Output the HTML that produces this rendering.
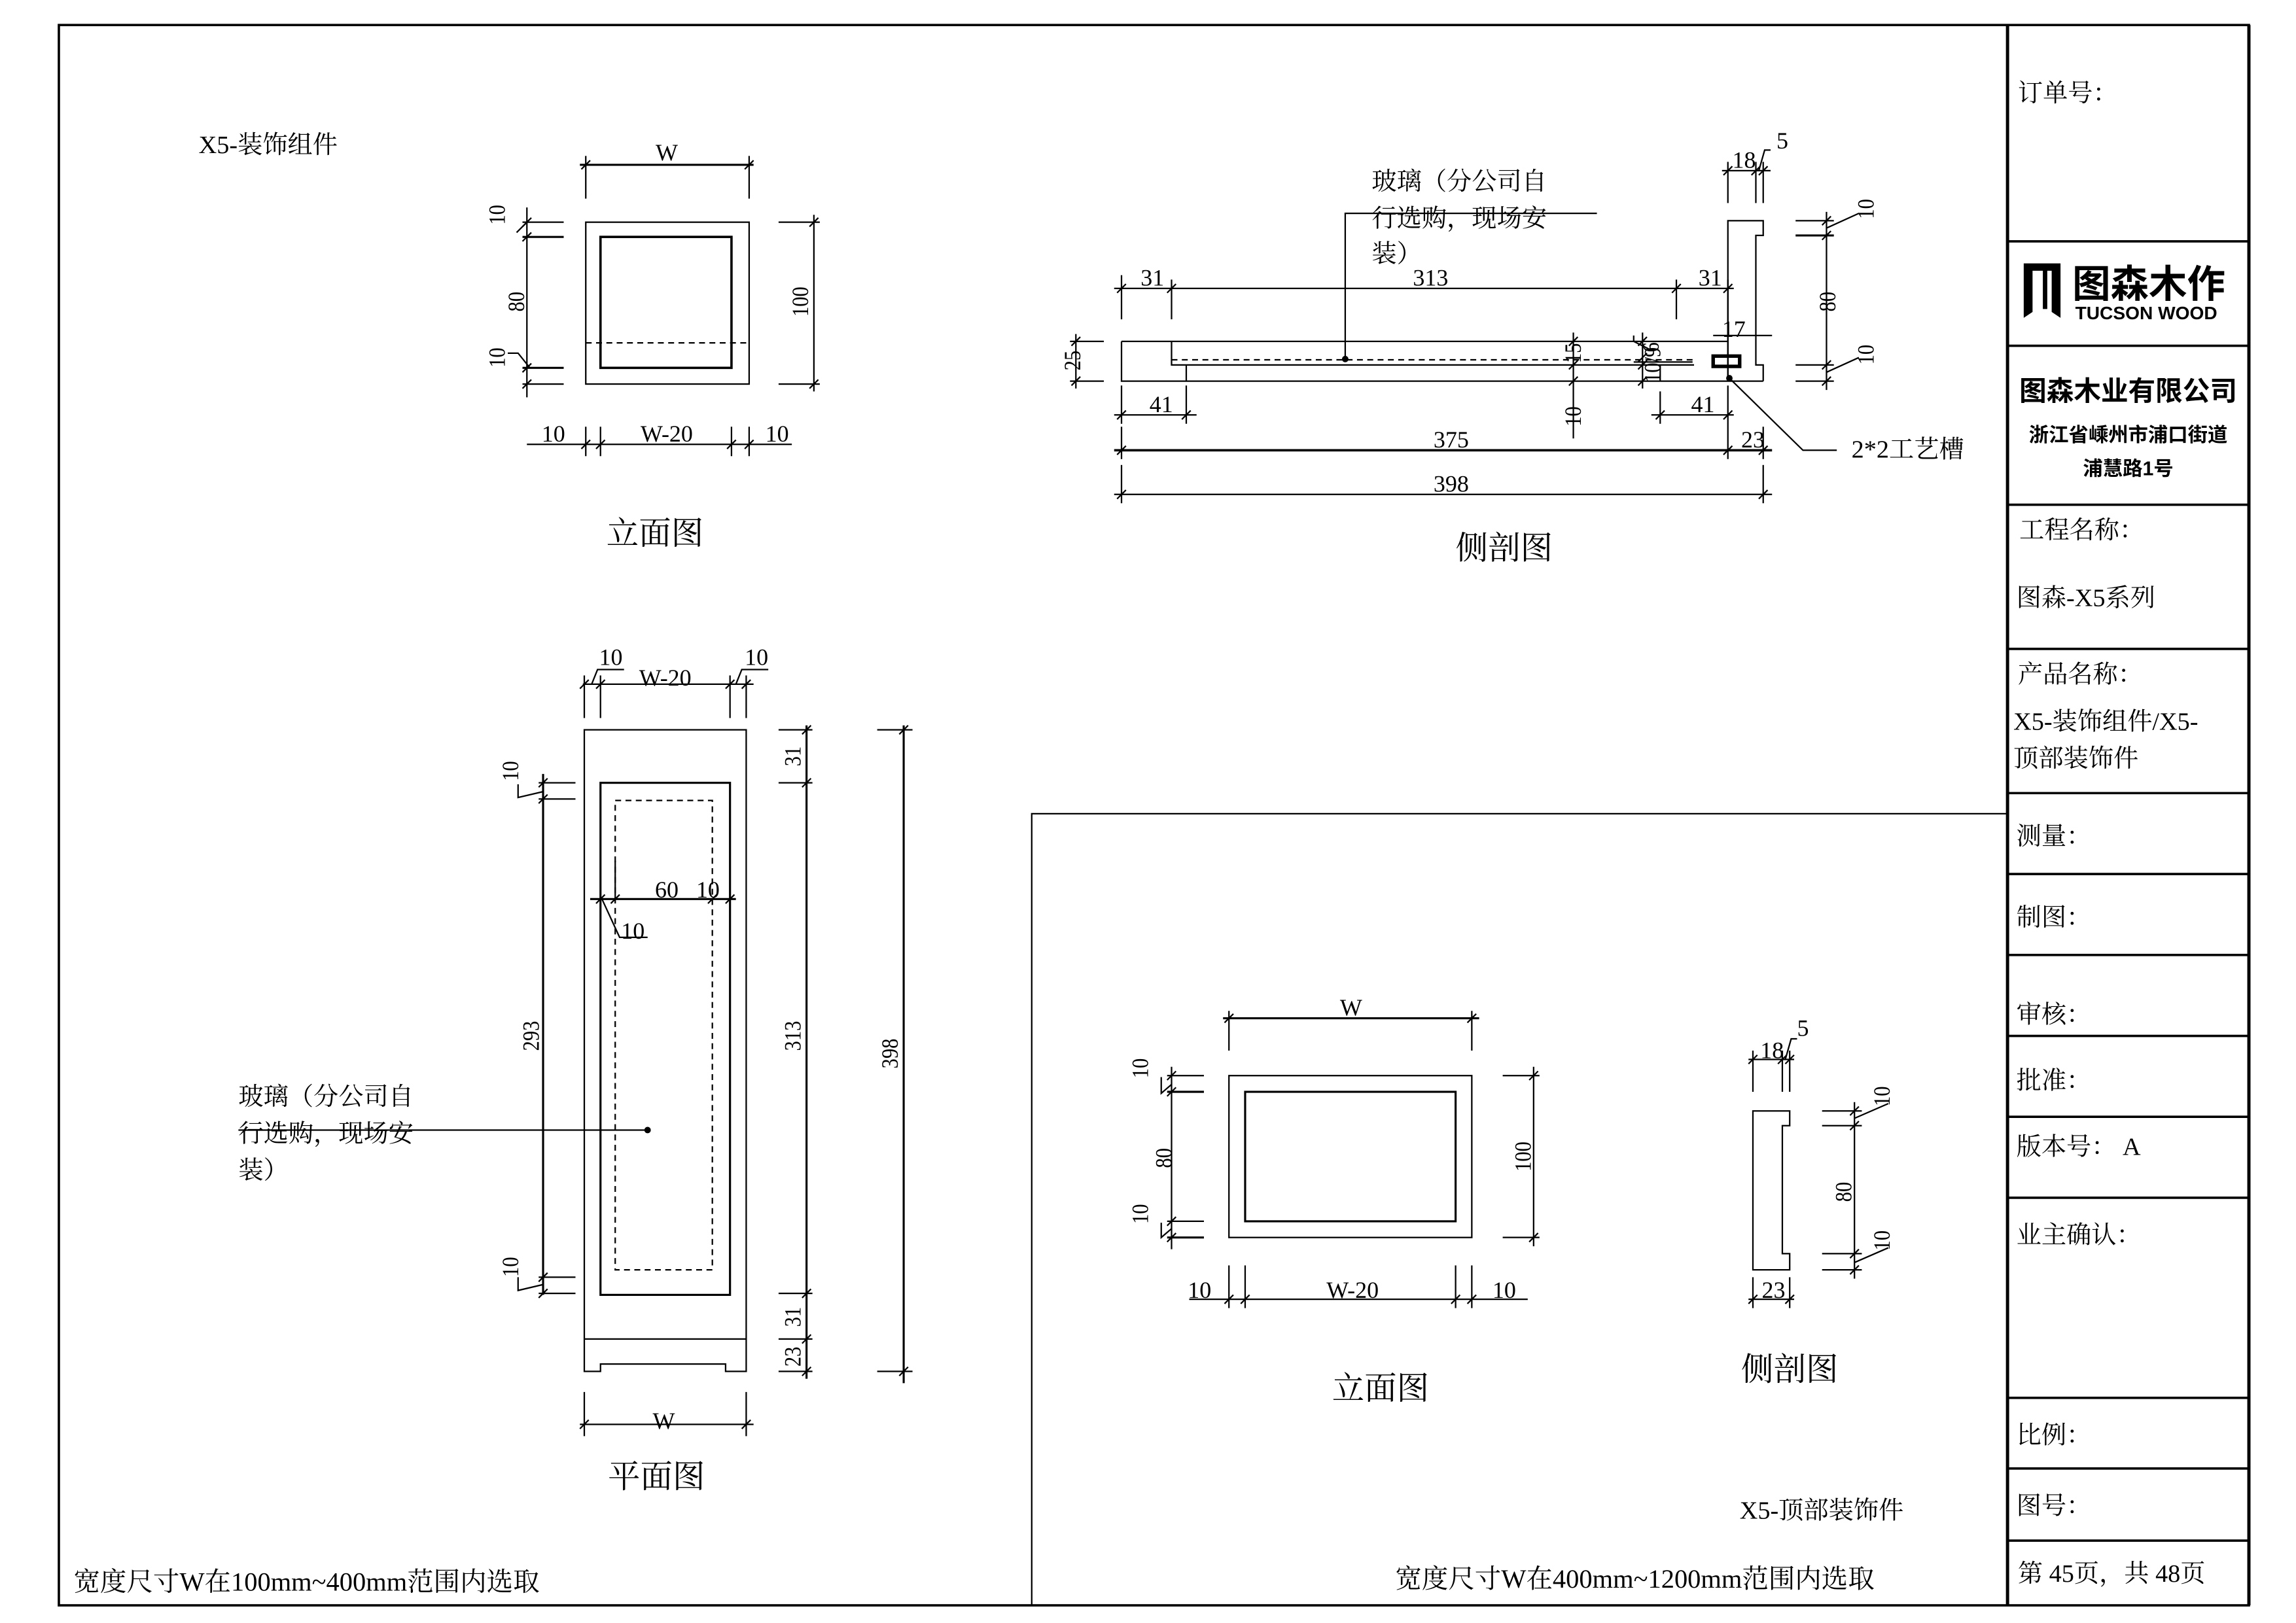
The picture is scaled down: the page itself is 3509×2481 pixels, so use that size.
<!DOCTYPE html>
<html><head><meta charset="utf-8"><style>
html,body{margin:0;padding:0;background:#fff}
svg{display:block}
.l{stroke:#000;stroke-width:1;fill:none}
.t{stroke:#000;stroke-width:1.6;fill:none}
.k{stroke:#000;stroke-width:2.2;fill:none}
.ds{stroke:#000;stroke-width:1;fill:none;stroke-dasharray:4 3}
.d{font-family:"Liberation Serif","Noto Serif CJK SC",serif;font-size:16px;fill:#000}
.c{font-family:"Liberation Serif","Noto Serif CJK SC",serif;fill:#000}
.b{font-family:"Liberation Sans","Noto Sans CJK SC",sans-serif;font-weight:bold;fill:#000}
</style></head><body>
<svg width="3509" height="2481" viewBox="0 0 1560 1103" preserveAspectRatio="none" xmlns="http://www.w3.org/2000/svg">
<rect x="0" y="0" width="1560" height="1103" fill="#fff"/>
<rect x="40" y="17" width="1488" height="1074" class="t"/>
<line x1="1364" y1="17" x2="1364" y2="1091" class="k"/>
<line x1="1528" y1="17" x2="1528" y2="1091" class="k"/>
<path class="l" d="M701 1091 V553 H1364"/>
<g class="t">
<line x1="1364" y1="164" x2="1528" y2="164"/>
<line x1="1364" y1="235" x2="1528" y2="235"/>
<line x1="1364" y1="343" x2="1528" y2="343"/>
<line x1="1364" y1="441" x2="1528" y2="441"/>
<line x1="1364" y1="539" x2="1528" y2="539"/>
<line x1="1364" y1="594" x2="1528" y2="594"/>
<line x1="1364" y1="649" x2="1528" y2="649"/>
<line x1="1364" y1="704" x2="1528" y2="704"/>
<line x1="1364" y1="759" x2="1528" y2="759"/>
<line x1="1364" y1="814" x2="1528" y2="814"/>
<line x1="1364" y1="950" x2="1528" y2="950"/>
<line x1="1364" y1="998" x2="1528" y2="998"/>
<line x1="1364" y1="1047" x2="1528" y2="1047"/>
</g>
<g class="c" font-size="17">
<text x="1371" y="69">订单号：</text>
<text x="1372" y="366">工程名称：</text>
<text x="1370" y="412">图森-X5系列</text>
<text x="1371" y="464">产品名称：</text>
<text x="1368" y="496">X5-装饰组件/X5-</text>
<text x="1368" y="521">顶部装饰件</text>
<text x="1370" y="574">测量：</text>
<text x="1370" y="629">制图：</text>
<text x="1370" y="695">审核：</text>
<text x="1370" y="740">批准：</text>
<text x="1370" y="785">版本号：   A</text>
<text x="1370" y="845">业主确认：</text>
<text x="1370" y="981">比例：</text>
<text x="1370" y="1029">图号：</text>
<text x="1371" y="1075">第 45页，共 48页</text>
</g>
<path d="M1375 179 H1400 V216 L1394 212 V184 H1391 V210 L1388 210 V184 H1381 V212 L1375 216 Z" fill="#000"/>
<text x="1408" y="202" class="b" font-size="26">图森木作</text>
<text x="1410" y="217" class="b" font-size="12.5" font-weight="normal">TUCSON WOOD</text>
<text x="1446" y="272" class="b" font-size="18.5" text-anchor="middle">图森木业有限公司</text>
<text x="1446" y="300" class="b" font-size="13.5" text-anchor="middle">浙江省嵊州市浦口街道</text>
<text x="1446" y="323" class="b" font-size="13.5" text-anchor="middle">浦慧路1号</text>

<text x="135" y="104" class="c" font-size="17">X5-装饰组件</text>
<rect x="398" y="151" width="111" height="110" class="l"/>
<rect x="408" y="161" width="89" height="89" class="t"/>
<line x1="398" y1="233" x2="509" y2="233" class="ds"/>
<g class="l">
<line x1="394" y1="112" x2="512" y2="112" stroke-width="1.4"/>
<line x1="398" y1="106" x2="398" y2="135"/><line x1="509" y1="106" x2="509" y2="135"/>
<path d="M395 115 L401 109 M506 115 L512 109"/>
<line x1="358" y1="141" x2="358" y2="270"/>
<line x1="355" y1="151" x2="383" y2="151"/><line x1="355" y1="161" x2="383" y2="161" stroke-width="1.4"/>
<line x1="355" y1="250" x2="383" y2="250" stroke-width="1.4"/><line x1="355" y1="261" x2="383" y2="261"/>
<path d="M355 154 L361 148 M355 164 L361 158 M355 253 L361 247 M355 264 L361 258"/>
<path d="M358 151 L351 158 M360 250 L352 240 H345"/>
<line x1="553" y1="146" x2="553" y2="266"/>
<line x1="529" y1="151" x2="557" y2="151"/><line x1="529" y1="261" x2="557" y2="261"/>
<path d="M550 154 L556 148 M550 264 L556 258"/>
<line x1="358" y1="302" x2="538" y2="302"/>
<line x1="398" y1="290" x2="398" y2="310"/><line x1="408" y1="290" x2="408" y2="310"/>
<line x1="497" y1="290" x2="497" y2="310"/><line x1="509" y1="290" x2="509" y2="310"/>
<path d="M395 305 L401 299 M405 305 L411 299 M494 305 L500 299 M506 305 L512 299"/>
</g>
<text class="d" transform="translate(343,146) rotate(-90) scale(0.85,1)" text-anchor="middle">10</text>
<text class="d" transform="translate(356,205) rotate(-90) scale(0.85,1)" text-anchor="middle">80</text>
<text class="d" transform="translate(343,243) rotate(-90) scale(0.85,1)" text-anchor="middle">10</text>
<text class="d" transform="translate(549,205) rotate(-90) scale(0.85,1)" text-anchor="middle">100</text>
<text class="d" x="453" y="109" text-anchor="middle" font-size="13">W</text>
<text class="d" x="376" y="300" text-anchor="middle">10</text>
<text class="d" x="453" y="300" text-anchor="middle">W-20</text>
<text class="d" x="528" y="300" text-anchor="middle">10</text>
<text class="c" x="445" y="370" font-size="22" text-anchor="middle">立面图</text>

<g class="l">
<path d="M762 232 H1174 M762 232 V259 H1198"/>
<path d="M796 232 V248 H1151"/>
<line x1="806" y1="248" x2="806" y2="259"/>
<line x1="1128" y1="248" x2="1128" y2="259"/>
<path d="M1174 259 V150 H1198 V160 H1193 V248 H1198 V259"/>
<line x1="1164" y1="228" x2="1204" y2="228"/>
<line x1="1174" y1="220" x2="1174" y2="259"/>
<line x1="757" y1="196" x2="1178" y2="196"/>
<line x1="762" y1="187" x2="762" y2="217"/><line x1="796" y1="190" x2="796" y2="217"/>
<line x1="1139" y1="190" x2="1139" y2="217"/><line x1="1174" y1="190" x2="1174" y2="228"/>
<path d="M759 199 L765 193 M793 199 L799 193 M1136 199 L1142 193 M1171 199 L1177 193"/>
<line x1="731" y1="227" x2="731" y2="264"/>
<line x1="727" y1="232" x2="750" y2="232"/><line x1="727" y1="259" x2="750" y2="259"/>
<path d="M728 235 L734 229 M728 262 L734 256"/>
<line x1="757" y1="282" x2="813" y2="282"/>
<line x1="762" y1="262" x2="762" y2="288"/><line x1="806" y1="262" x2="806" y2="288"/>
<path d="M759 285 L765 279 M803 285 L809 279"/>
<line x1="1122" y1="282" x2="1178" y2="282"/>
<line x1="1128" y1="266" x2="1128" y2="288"/><line x1="1174" y1="262" x2="1174" y2="312"/>
<path d="M1125 285 L1131 279 M1171 285 L1177 279"/>
<line x1="757" y1="306" x2="1204" y2="306" stroke-width="1.6"/>
<line x1="762" y1="290" x2="762" y2="312"/><line x1="1198" y1="290" x2="1198" y2="312"/>
<path d="M759 309 L765 303 M1171 309 L1177 303 M1195 309 L1201 303"/>
<line x1="757" y1="336" x2="1204" y2="336"/>
<line x1="762" y1="316" x2="762" y2="342"/><line x1="1198" y1="316" x2="1198" y2="342"/>
<path d="M759 339 L765 333 M1195 339 L1201 333"/>
<line x1="1069" y1="226" x2="1069" y2="298"/>
<path d="M1066 235 L1072 229 M1066 251 L1072 245 M1066 262 L1072 256"/>
<line x1="1116" y1="226" x2="1116" y2="264"/>
<path d="M1113 235 L1119 229 M1113 246 L1119 240 M1113 251 L1119 245 M1113 262 L1119 256"/>
<path d="M1110 228 V232 L1120 237 M1110 246 H1150"/>
<line x1="1241" y1="144" x2="1241" y2="265"/>
<line x1="1220" y1="150" x2="1246" y2="150"/><line x1="1220" y1="160" x2="1246" y2="160" stroke-width="1.4"/>
<line x1="1220" y1="248" x2="1246" y2="248"/><line x1="1220" y1="259" x2="1246" y2="259"/>
<path d="M1238 153 L1244 147 M1238 163 L1244 157 M1238 251 L1244 245 M1238 262 L1244 256"/>
<path d="M1241 155 L1263 145 M1241 253 L1263 243"/>
<line x1="1170" y1="116" x2="1203" y2="116"/>
<line x1="1174" y1="110" x2="1174" y2="138"/><line x1="1193" y1="110" x2="1193" y2="138"/><line x1="1198" y1="110" x2="1198" y2="138"/>
<path d="M1171 119 L1177 113 M1190 119 L1196 113 M1195 119 L1201 113 M1195 116 L1199 102 H1203"/>
<path d="M914 244 V145 H1085"/>
<path d="M1175 257 L1225 306 H1248"/>
</g>
<line x1="796" y1="244.5" x2="1150" y2="244.5" class="ds"/>
<rect x="1164" y="242" width="18" height="7" fill="none" stroke="#000" stroke-width="2.4"/>
<circle cx="914" cy="244" r="2.2" fill="#000"/>
<circle cx="1175" cy="257" r="2.2" fill="#000"/>
<g class="c" font-size="17">
<text x="932" y="129">玻璃（分公司自</text>
<text x="932" y="154">行选购，现场安</text>
<text x="932" y="178">装）</text>
<text x="1258" y="311">2*2工艺槽</text>
</g>
<text class="d" x="783" y="194" text-anchor="middle">31</text>
<text class="d" x="972" y="194" text-anchor="middle">313</text>
<text class="d" x="1162" y="194" text-anchor="middle">31</text>
<text class="d" x="789" y="280" text-anchor="middle">41</text>
<text class="d" x="1157" y="280" text-anchor="middle">41</text>
<text class="d" x="986" y="304" text-anchor="middle">375</text>
<text class="d" x="1191" y="304" text-anchor="middle">23</text>
<text class="d" x="986" y="334" text-anchor="middle">398</text>
<text class="d" x="1178" y="229" text-anchor="middle">17</text>
<text class="d" x="1211" y="101" text-anchor="middle" font-size="14">5</text>
<text class="d" x="1185" y="114" text-anchor="middle" font-size="14">18</text>
<text class="d" transform="translate(734,245) rotate(-90) scale(0.85,1)" text-anchor="middle">25</text>
<text class="d" transform="translate(1074,240) rotate(-90) scale(0.85,1)" text-anchor="middle" font-size="14">15</text>
<text class="d" transform="translate(1074,283) rotate(-90) scale(0.85,1)" text-anchor="middle" font-size="14">10</text>
<text class="d" transform="translate(1127,236) rotate(-90) scale(0.85,1)" text-anchor="middle" font-size="14">6</text>
<text class="d" transform="translate(1128,248) rotate(-90) scale(0.85,1)" text-anchor="middle" font-size="14">10/9</text>
<text class="d" transform="translate(1273,142) rotate(-90) scale(0.85,1)" text-anchor="middle">10</text>
<text class="d" transform="translate(1247,205) rotate(-90) scale(0.85,1)" text-anchor="middle">80</text>
<text class="d" transform="translate(1273,241) rotate(-90) scale(0.85,1)" text-anchor="middle">10</text>
<text class="c" x="1022" y="380" font-size="22" text-anchor="middle">侧剖图</text>

<g class="l">
<path d="M397 496 H507 V932 H493 V927 H408 V932 H397 Z"/>
<line x1="397" y1="910" x2="507" y2="910"/>
<rect x="408" y="532" width="88" height="348" stroke-width="1.4"/>
<line x1="396" y1="465" x2="512" y2="465"/>
<line x1="397" y1="459" x2="397" y2="488"/><line x1="408" y1="459" x2="408" y2="488"/>
<line x1="496" y1="459" x2="496" y2="488"/><line x1="507" y1="459" x2="507" y2="488"/>
<path d="M394 468 L400 462 M405 468 L411 462 M493 468 L499 462 M504 468 L510 462"/>
<path d="M402 465 L406 455 H424 M500 465 L504 455 H522"/>
<line x1="369" y1="526" x2="369" y2="880" stroke-width="1.4"/>
<line x1="366" y1="532" x2="391" y2="532"/><line x1="366" y1="543" x2="391" y2="543"/>
<line x1="366" y1="868" x2="391" y2="868"/><line x1="366" y1="879" x2="391" y2="879"/>
<path d="M366 535 L372 529 M366 546 L372 540 M366 871 L372 865 M366 882 L372 876"/>
<path d="M369 538 L352 542 V533 M369 873 L352 877 V868"/>
<line x1="548" y1="493" x2="548" y2="937" stroke-width="1.4"/>
<line x1="529" y1="496" x2="552" y2="496"/><line x1="529" y1="532" x2="552" y2="532"/>
<line x1="529" y1="879" x2="552" y2="879"/><line x1="529" y1="910" x2="552" y2="910"/>
<line x1="529" y1="932" x2="552" y2="932"/>
<path d="M545 499 L551 493 M545 535 L551 529 M545 882 L551 876 M545 913 L551 907 M545 935 L551 929"/>
<line x1="614" y1="493" x2="614" y2="940" stroke-width="1.4"/>
<line x1="596" y1="496" x2="620" y2="496"/><line x1="596" y1="932" x2="620" y2="932"/>
<path d="M611 499 L617 493 M611 935 L617 929"/>
<line x1="401" y1="611" x2="500" y2="611" stroke-width="1.4"/>
<line x1="418" y1="585" x2="418" y2="611"/>
<path d="M405 614 L411 608 M415 614 L421 608 M481 614 L487 608 M493 614 L499 608"/>
<path d="M409 611 L421 637 H440"/>
<line x1="394" y1="968" x2="512" y2="968"/>
<line x1="397" y1="946" x2="397" y2="976"/><line x1="507" y1="946" x2="507" y2="976"/>
<path d="M394 971 L400 965 M504 971 L510 965"/>
<line x1="162" y1="768" x2="440" y2="768"/>
</g>
<rect x="418" y="544" width="66" height="319" class="ds"/>
<circle cx="440" cy="768" r="2.2" fill="#000"/>
<g class="c" font-size="17">
<text x="162" y="751">玻璃（分公司自</text>
<text x="162" y="776">行选购，现场安</text>
<text x="162" y="801">装）</text>
</g>
<text class="d" x="415" y="452" text-anchor="middle">10</text>
<text class="d" x="514" y="452" text-anchor="middle">10</text>
<text class="d" x="452" y="466" text-anchor="middle">W-20</text>
<text class="d" x="453" y="610" text-anchor="middle">60</text>
<text class="d" x="481" y="610" text-anchor="middle">10</text>
<text class="d" x="430" y="638" text-anchor="middle">10</text>
<text class="d" x="451" y="971" text-anchor="middle" font-size="13">W</text>
<text class="d" transform="translate(352,524) rotate(-90) scale(0.85,1)" text-anchor="middle">10</text>
<text class="d" transform="translate(366,704) rotate(-90) scale(0.85,1)" text-anchor="middle">293</text>
<text class="d" transform="translate(352,861) rotate(-90) scale(0.85,1)" text-anchor="middle">10</text>
<text class="d" transform="translate(544,514) rotate(-90) scale(0.85,1)" text-anchor="middle">31</text>
<text class="d" transform="translate(544,704) rotate(-90) scale(0.85,1)" text-anchor="middle">313</text>
<text class="d" transform="translate(544,895) rotate(-90) scale(0.85,1)" text-anchor="middle">31</text>
<text class="d" transform="translate(544,922) rotate(-90) scale(0.85,1)" text-anchor="middle">23</text>
<text class="d" transform="translate(610,716) rotate(-90) scale(0.85,1)" text-anchor="middle">398</text>
<text class="c" x="446" y="1011" font-size="22" text-anchor="middle">平面图</text>
<text class="c" x="50" y="1081" font-size="18">宽度尺寸W在100mm~400mm范围内选取</text>

<g class="l">
<rect x="835" y="731" width="165" height="110"/>
<rect x="846" y="742" width="143" height="88" stroke-width="1.4"/>
<line x1="831" y1="692" x2="1005" y2="692" stroke-width="1.4"/>
<line x1="835" y1="687" x2="835" y2="714"/><line x1="1000" y1="687" x2="1000" y2="714"/>
<path d="M832 695 L838 689 M997 695 L1003 689"/>
<line x1="796" y1="725" x2="796" y2="849"/>
<line x1="793" y1="731" x2="818" y2="731"/><line x1="793" y1="742" x2="818" y2="742" stroke-width="1.4"/>
<line x1="793" y1="830" x2="818" y2="830"/><line x1="793" y1="841" x2="818" y2="841" stroke-width="1.4"/>
<path d="M793 734 L799 728 M793 745 L799 739 M793 833 L799 827 M793 844 L799 838"/>
<path d="M796 737 L789 743 V732 M796 835 L789 841 V831"/>
<line x1="1042" y1="725" x2="1042" y2="847"/>
<line x1="1021" y1="731" x2="1046" y2="731"/><line x1="1021" y1="841" x2="1046" y2="841"/>
<path d="M1039 734 L1045 728 M1039 844 L1045 838"/>
<line x1="808" y1="883" x2="1038" y2="883"/>
<line x1="835" y1="860" x2="835" y2="889"/><line x1="846" y1="860" x2="846" y2="889"/>
<line x1="989" y1="860" x2="989" y2="889"/><line x1="1000" y1="860" x2="1000" y2="889"/>
<path d="M832 886 L838 880 M843 886 L849 880 M986 886 L992 880 M997 886 L1003 880"/>
<path d="M1191 755 H1216 V765 H1211 V852 H1216 V863 H1191 Z"/>
<line x1="1188" y1="720" x2="1219" y2="720"/>
<line x1="1191" y1="714" x2="1191" y2="742"/><line x1="1211" y1="714" x2="1211" y2="742"/><line x1="1216" y1="714" x2="1216" y2="742"/>
<path d="M1188 723 L1194 717 M1208 723 L1214 717 M1213 723 L1219 717 M1213 720 L1217 706 H1221"/>
<line x1="1260" y1="749" x2="1260" y2="869"/>
<line x1="1238" y1="755" x2="1265" y2="755"/><line x1="1238" y1="765" x2="1265" y2="765"/>
<line x1="1238" y1="852" x2="1265" y2="852"/><line x1="1238" y1="863" x2="1265" y2="863"/>
<path d="M1257 758 L1263 752 M1257 768 L1263 762 M1257 855 L1263 849 M1257 866 L1263 860"/>
<path d="M1260 760 L1283 750 M1260 858 L1283 848"/>
<line x1="1188" y1="883" x2="1219" y2="883"/>
<line x1="1191" y1="868" x2="1191" y2="889"/><line x1="1216" y1="868" x2="1216" y2="889"/>
<path d="M1188 886 L1194 880 M1213 886 L1219 880"/>
</g>
<text class="d" x="918" y="690" text-anchor="middle" font-size="13">W</text>
<text class="d" transform="translate(780,726) rotate(-90) scale(0.85,1)" text-anchor="middle">10</text>
<text class="d" transform="translate(796,787) rotate(-90) scale(0.85,1)" text-anchor="middle">80</text>
<text class="d" transform="translate(780,825) rotate(-90) scale(0.85,1)" text-anchor="middle">10</text>
<text class="d" transform="translate(1040,786) rotate(-90) scale(0.85,1)" text-anchor="middle">100</text>
<text class="d" x="815" y="882" text-anchor="middle">10</text>
<text class="d" x="919" y="882" text-anchor="middle">W-20</text>
<text class="d" x="1022" y="882" text-anchor="middle">10</text>
<text class="c" x="938" y="951" font-size="22" text-anchor="middle">立面图</text>
<text class="d" x="1204" y="719" text-anchor="middle" font-size="14">18</text>
<text class="d" x="1225" y="704" text-anchor="middle" font-size="14">5</text>
<text class="d" transform="translate(1284,745) rotate(-90) scale(0.85,1)" text-anchor="middle">10</text>
<text class="d" transform="translate(1258,810) rotate(-90) scale(0.85,1)" text-anchor="middle">80</text>
<text class="d" transform="translate(1284,843) rotate(-90) scale(0.85,1)" text-anchor="middle">10</text>
<text class="d" x="1205" y="882" text-anchor="middle">23</text>
<text class="c" x="1216" y="938" font-size="22" text-anchor="middle">侧剖图</text>
<text class="c" x="1182" y="1032" font-size="17">X5-顶部装饰件</text>
<text class="c" x="948" y="1079" font-size="18">宽度尺寸W在400mm~1200mm范围内选取</text>
</svg>
</body></html>
